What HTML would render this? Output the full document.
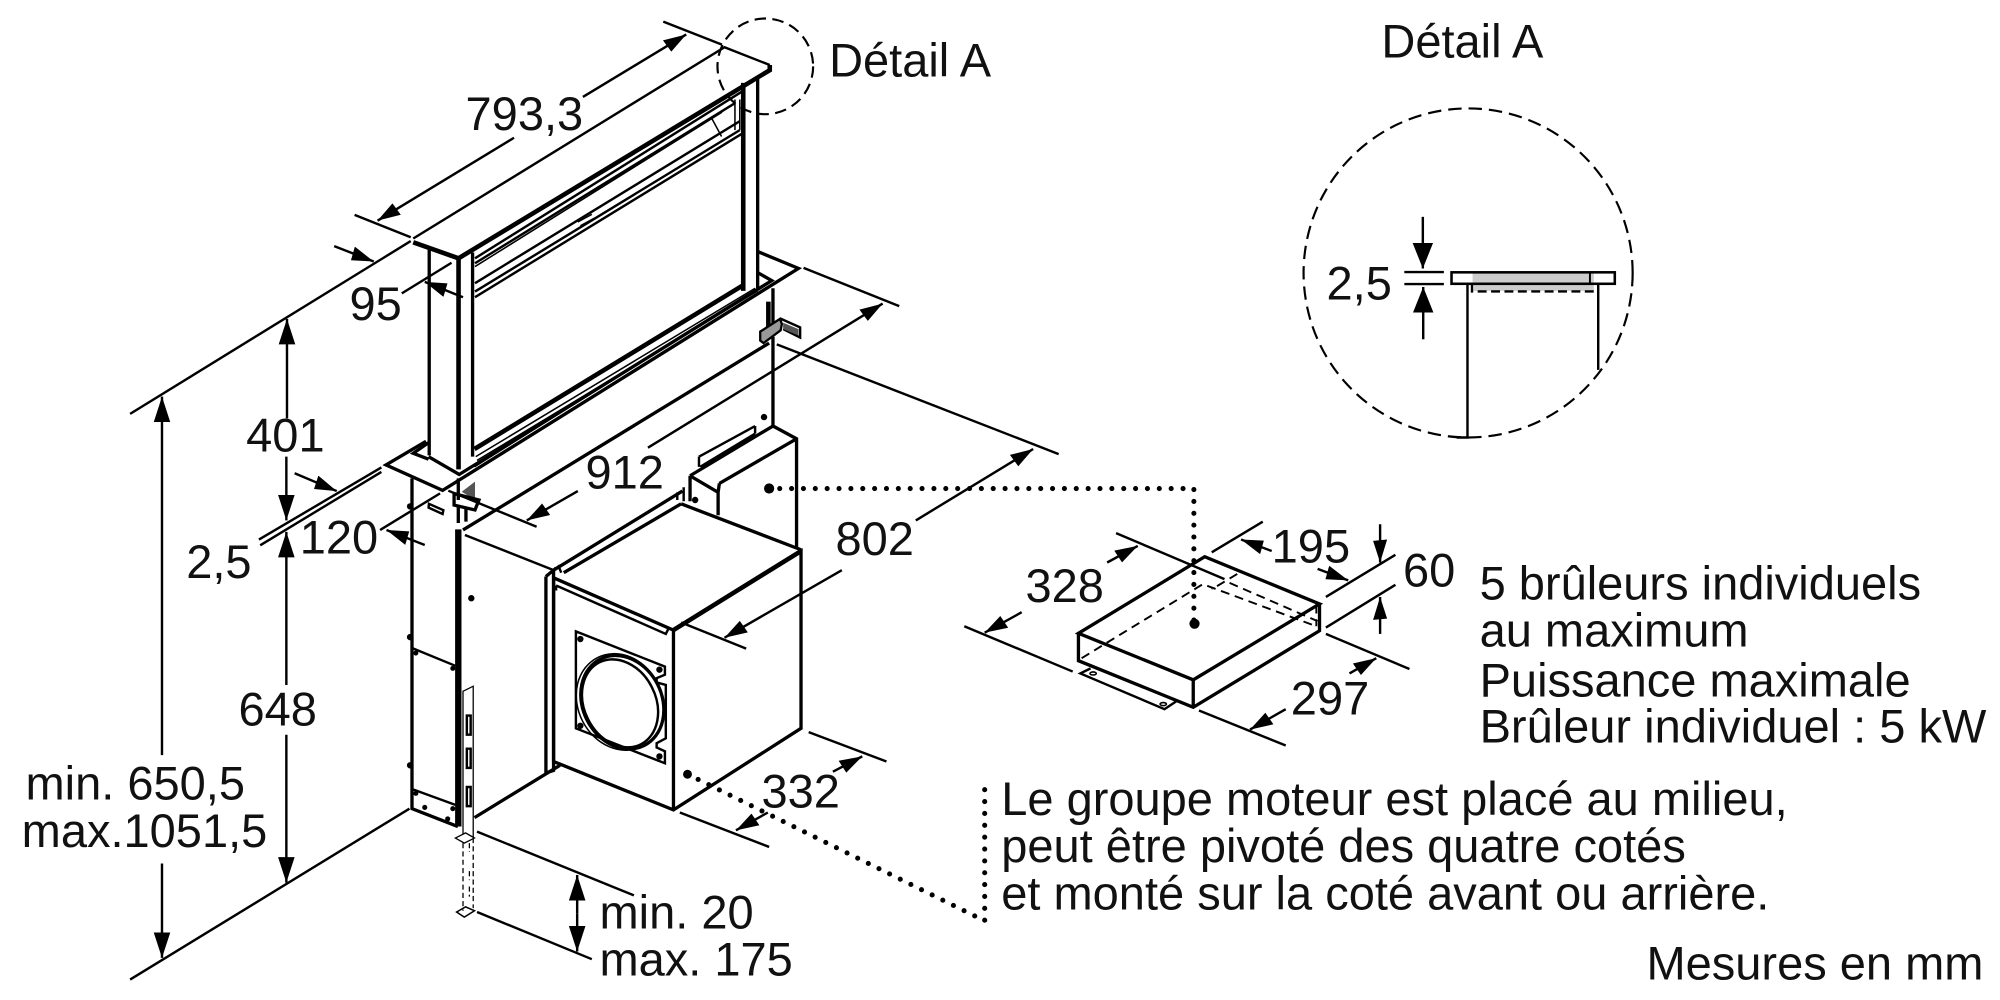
<!DOCTYPE html>
<html lang="fr"><head><meta charset="utf-8"><title>Détail</title>
<style>
html,body{margin:0;padding:0;background:#fff;width:2000px;height:1000px;overflow:hidden}
svg{display:block}
text{font-family:"Liberation Sans",sans-serif;font-size:36.85px;fill:#111}
.l{fill:none;stroke:#000;stroke-width:1.9}
.t{fill:none;stroke:#000;stroke-width:2.6}
.th{fill:none;stroke:#000;stroke-width:3.6}
.f{fill:none;stroke:#000;stroke-width:1.2}
.d{fill:none;stroke:#000;stroke-width:1.5;stroke-dasharray:7 4.5}
.s{fill:none;stroke:#000;stroke-width:1;stroke-dasharray:4 2.5}
.o{fill:none;stroke:#000;stroke-width:4;stroke-linecap:round;stroke-dasharray:0 9.3}
</style></head><body>
<svg xmlns="http://www.w3.org/2000/svg" width="2000" height="1000" viewBox="0 0 1568 784">
<defs>
<marker id="a" markerUnits="userSpaceOnUse" markerWidth="22" markerHeight="14" refX="20" refY="7" orient="auto"><path d="M0 .5L20 7L0 13.500Z" fill="#000"/></marker>
<marker id="c" markerUnits="userSpaceOnUse" markerWidth="22" markerHeight="18" refX="20" refY="9" orient="auto"><path d="M0 1L20 9L0 17Z" fill="#000"/></marker>
<marker id="b" markerUnits="userSpaceOnUse" markerWidth="20" markerHeight="14" refX="18" refY="7" orient="auto"><path d="M0 1.500L18 7L1 12.500Z" fill="#000"/></marker>
</defs>
<rect width="1568" height="784" fill="#fff"/>

<!-- hood -->
<path class="l" d="M324 187L568 37L603.500 51"/>
<path class="th" d="M324 190L359.500 202.500L603.500 55L603.500 51"/>
<path class="th" d="M359.500 202V368"/>
<path class="t" d="M336.500 196V357M370.500 198V358M594 60V226"/>
<path class="th" d="M582.700 65V228"/>
<path class="l" d="M372.400 202.500L581.400 72"/>
<path class="l" d="M372.400 206.400L576 81"/>
<path class="f" d="M372.400 209L566 88M558 92.800L565.700 107M576.200 78V102M580 78V102M453 174L464 168M455 177L466 171"/>
<path class="l" d="M372.400 222L580 95M372.400 228.600L580 102M372.400 233L581.400 105"/>
<path class="th" d="M372 352L582 224"/>
<path class="t" d="M336 358L360 372L605 220L594.500 214"/>
<path class="f" d="M373 358L592 226M372 366L598 224M374 361L594 228"/>
<path class="t" d="M334 346L302.600 364.500L347 384.500L626 210.400L594.500 197.400"/>
<path class="t" d="M336 347L324 355.400L336 360"/>

<!-- back body -->
<path class="t" d="M323 375V634L359 648"/>
<path d="M359.300 415V648" stroke="#000" stroke-width="5" fill="none"/>
<path class="t" d="M359.300 375V392M363 415.500L603 269M606 226V262M606 264V335"/>
<path class="l" d="M323 508L357 522M324 619L357 631M364.500 419.400L434 447"/>
<circle cx="321.500" cy="397" r="2.500"/><circle cx="321.500" cy="499.500" r="2.500"/><circle cx="321.500" cy="600" r="2.500"/>
<circle cx="326" cy="512" r="2"/><circle cx="355" cy="524" r="2"/><circle cx="326" cy="622" r="2"/><circle cx="355" cy="634" r="2"/><circle cx="333" cy="633" r="2"/><circle cx="351" cy="642" r="2"/><circle cx="369.500" cy="469" r="2.500"/>
<path class="l" d="M336.300 395L347.600 400L347 403L336 398Z"/>
<!-- left bracket -->
<path d="M362 385.500L372.400 377.600V392Z" fill="#555"/>
<path class="t" d="M356 387L375.500 392L372.400 399.800L356 396Z"/>
<path class="t" d="M365.300 398.500V409M359.300 396V410"/>
<!-- right bracket -->
<path class="th" d="M602.400 236.500V260"/>
<path d="M596 260L611.500 250L613 254L612 259L598.600 269L596 267Z" fill="#999" stroke="#000" stroke-width="1.800"/>
<path class="l" d="M611.500 249.600L627.300 256.700V264.600L614 258"/><path d="M614 253L626 258V263L614 258Z" fill="#555"/>

<!-- motor -->
<path class="t" d="M372 641L439 600M428 452V606L434 604V447L428 452M434 447L535 385M442 449L534 395"/>
<path class="t" d="M434 453L528 494L628 432V571L528 635L434 597Z"/>
<path class="th" d="M528 494L628 432"/>
<path class="t" d="M528 494V635M534 395L628 431"/>
<path class="l" d="M436 459L522 497L524 493M436 459V463"/>
<path class="l" d="M430 450L438 444L440 449M531 386V392M536 382V393"/>
<circle cx="545" cy="392" r="2.500"/>
<path class="t" d="M606 334L624.500 344V430M564 379L624.500 344M541 373L606 334M541 373L563 386V404M541 373V393M563 386L564 379"/>
<path class="l" d="M548 358L592 334M549 366L592 340M548 358V366M592 334V340"/><circle cx="599" cy="327" r="2.500"/>
<!-- flange -->
<path class="l" d="M451.500 495L521.300 522.600V529L514.800 531.700V535L522 537V578.800L514.800 582.700V586L521.300 589V598.400L451.500 571Z"/>
<circle cx="455" cy="501" r="2.500"/><circle cx="517" cy="525" r="2.500"/><circle cx="455" cy="569" r="2.500"/><circle cx="517" cy="593" r="2.500"/>
<g transform="rotate(-27 487 551)"><ellipse cx="486.500" cy="550" rx="33" ry="39" fill="#fff" class="f"/><ellipse cx="488" cy="551" rx="31" ry="38" class="t"/><ellipse cx="486" cy="551" rx="28" ry="36" class="l"/></g>
<!-- rail -->
<path d="M363 657V542L371 538V657Z" fill="#fff" stroke="#000" stroke-width="1"/>
<path class="l" d="M366 561H369V576H366ZM366 587H369V602H366ZM366 617H369V632H366Z"/>
<path d="M357 657L365 653L372 657L364 661Z" fill="#fff" stroke="#000" stroke-width="1"/>
<path class="s" d="M363 661V714M371 657V712M368 661V668M368 683V690M368 695V703"/>
<path class="f" d="M358 715L365 711L372 714L364 719Z"/>

<!-- hood dims -->
<path class="l" d="M520 17L566 35M278 168.500L322 186M102 324.500L322 189"/>
<path class="l" d="M457 76L538 27" marker-end="url(#b)"/><path class="l" d="M403 108L296 173" marker-end="url(#b)"/>
<path class="l" d="M262 193L293 205" marker-end="url(#b)"/><path class="l" d="M363 233L333 221" marker-end="url(#b)"/><path class="l" d="M315 230L354 206"/>
<path class="l" d="M225 328V250" marker-end="url(#a)"/><path class="l" d="M224.500 358V408" marker-end="url(#a)"/>
<path class="l" d="M224.500 537V417" marker-end="url(#a)"/><path class="l" d="M224.500 576V692" marker-end="url(#a)"/>
<path class="l" d="M127 592V311" marker-end="url(#a)"/><path class="l" d="M127 677V751" marker-end="url(#a)"/>
<path class="l" d="M203 423L299 366.500M204 427.500L299 370M102 768L321 634"/>
<path class="l" d="M231 371L264 385" marker-end="url(#b)"/>
<path class="l" d="M298 415.500L345 386.800"/>
<path class="l" d="M333 427.300L303 415.500" marker-end="url(#b)"/>
<!-- 912 -->
<path class="l" d="M351.500 384.700L420.700 413M630 210L705 240M609 270L830 356"/>
<path class="l" d="M453 385L413 408" marker-end="url(#b)"/><path class="l" d="M508 351L692 238" marker-end="url(#b)"/>
<!-- 802 -->
<path class="l" d="M534 488L585 508.500"/><path class="l" d="M660 447L568 500" marker-end="url(#b)"/><path class="l" d="M718 408L810 352" marker-end="url(#b)"/>
<!-- 332 -->
<path class="l" d="M634 574L695 597M533 637L603 664"/><path class="l" d="M653 605L676 593" marker-end="url(#b)"/><path class="l" d="M602 637L577 651" marker-end="url(#b)"/>
<!-- min/max -->
<path class="l" d="M374 652L497 702M374 715L464 752"/>
<path class="l" d="M452.500 716V686" marker-end="url(#a)"/>
<path class="l" d="M452.500 716V746" marker-end="url(#a)"/>

<!-- dotted -->
<path class="o" d="M602 383H936V489"/><circle cx="603" cy="383" r="4"/><circle cx="936.500" cy="489" r="4"/>
<path class="o" d="M539 607L772 722V618"/><circle cx="539" cy="607" r="3.500"/>

<!-- small box -->
<path class="d" d="M848 516L943 458L1032 491M964 457L1033 487M1032 474V491M970 450L950 462"/>
<path class="t" d="M845.500 496.500L944.500 436.500L1034.500 473.500L935.500 533ZM845.500 496.500V518L935.500 554.500L1034.500 494.500V473.500M935.500 533V554.500"/>
<path class="l" d="M855 524L847 528L913 556L922 550"/>
<ellipse cx="857" cy="528" rx="2.500" ry="1.200" class="f"/><ellipse cx="912" cy="552" rx="2.500" ry="1.200" class="f"/>
<path class="l" d="M875 418L960 454M756 491L841 526.500M950 433L990 409M1039.500 468L1094 435M1039.500 492L1094 458.500M1039.500 497L1105 524.500M940 557L1008 584.500"/>
<path class="l" d="M868 441L892 428" marker-end="url(#b)"/><path class="l" d="M801 480L772 496" marker-end="url(#b)"/>
<path class="l" d="M997 432L973 423" marker-end="url(#b)"/><path class="l" d="M1033 446L1057 455" marker-end="url(#b)"/>
<path class="l" d="M1082 411V441" marker-end="url(#b)"/><path class="l" d="M1082 497V468" marker-end="url(#b)"/>
<path class="l" d="M1058 528L1079 516" marker-end="url(#b)"/><path class="l" d="M1008 556L980 572" marker-end="url(#b)"/>

<!-- detail circle small -->
<circle cx="600" cy="52" r="37.500" fill="none" stroke="#000" stroke-width="1.700" stroke-dasharray="9 5"/>

<!-- detail A -->
<circle cx="1151" cy="214" r="129" fill="none" stroke="#000" stroke-width="1.700" stroke-dasharray="10.500 5.500"/>
<rect x="1154.500" y="214" width="95" height="14" fill="#ccc"/>
<rect x="1138" y="213.500" width="128" height="9" fill="none" stroke="#000" stroke-width="2"/>
<path d="M1154 222.500V228.500H1250" fill="none" stroke="#000" stroke-width="1.800" stroke-dasharray="7 3.500"/>
<path d="M1246.500 214V222" stroke="#000" stroke-width="1.500"/>
<path class="l" d="M1142 343H1150.500V222.500M1253 222.500V290M1101 213.300H1132M1101 222.700H1132"/>
<path class="l" d="M1115.500 170V210.500" marker-end="url(#c)"/><path class="l" d="M1115.800 266V225" marker-end="url(#c)"/>

<!-- labels -->
<text x="650" y="60">Détail A</text>
<text x="1083" y="45">Détail A</text>
<text x="365" y="102">793,3</text>
<text x="274" y="251">95</text>
<text x="193" y="354">401</text>
<text x="459" y="383">912</text>
<text x="146" y="453">2,5</text>
<text x="235" y="434">120</text>
<text x="655" y="435">802</text>
<text x="187" y="569">648</text>
<text x="20" y="627">min. 650,5</text>
<text x="17" y="664">max.1051,5</text>
<text x="597" y="633">332</text>
<text x="470" y="728">min. 20</text>
<text x="470" y="765">max. 175</text>
<text x="804" y="472">328</text>
<text x="997" y="441">195</text>
<text x="1100" y="460">60</text>
<text x="1012" y="560">297</text>
<text x="1040" y="235">2,5</text>
<text x="1160" y="470">5 brûleurs individuels</text>
<text x="1160" y="507">au maximum</text>
<text x="1160" y="546">Puissance maximale</text>
<text x="1160" y="582">Brûleur individuel : 5 kW</text>
<text x="785" y="639">Le groupe moteur est placé au milieu,</text>
<text x="785" y="676">peut être pivoté des quatre cotés</text>
<text x="785" y="713">et monté sur la coté avant ou arrière.</text>
<text x="1555" y="768" text-anchor="end">Mesures en mm</text>
</svg>
</body></html>
